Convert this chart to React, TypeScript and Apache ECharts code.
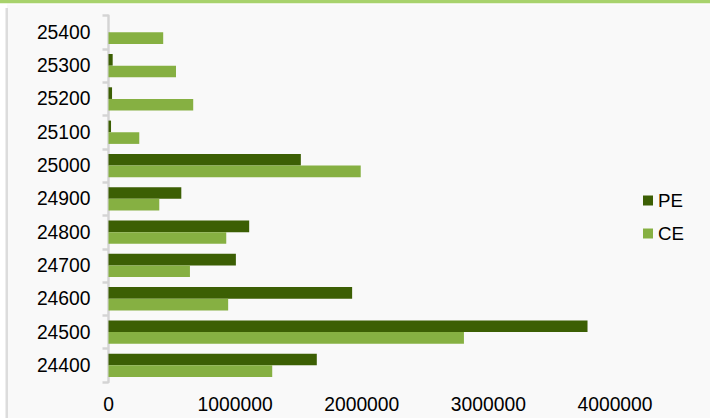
import React, { useEffect, useRef } from "react";
import * as echarts from "echarts";

const categories = ["24400", "24500", "24600", "24700", "24800", "24900", "25000", "25100", "25200", "25300", "25400"];
const peValues = [1645000, 3783000, 1924000, 1006000, 1111000, 575000, 1519000, 20000, 28000, 33000, 0];
const ceValues = [1293000, 2807000, 945000, 643000, 930000, 401000, 1992000, 243000, 669000, 533000, 432000];
const seriesNames = ["PE", "CE"];

export default function App() {
  const ref = useRef<HTMLDivElement>(null);
  useEffect(() => {
    if (!ref.current) return;
    const chart = echarts.init(ref.current, undefined, { renderer: "svg" });
    const font = "'Liberation Sans', Arial, sans-serif";
    chart.setOption({
      animation: false,
      backgroundColor: "#f9f9f9",
      textStyle: { fontFamily: font },
      graphic: [
        { type: "rect", shape: { x: 0, y: 0, width: 7, height: 418 }, style: { fill: "#ffffff" }, z: -1 },
        { type: "rect", shape: { x: 0, y: 0, width: 710, height: 3.5 }, style: { fill: "#a8d26c" } },
        { type: "rect", shape: { x: 0, y: 3.5, width: 710, height: 1 }, style: { fill: "#ffffff" } },
        { type: "rect", shape: { x: 5.5, y: 8, width: 2.5, height: 410 }, style: { fill: "#dcdcdc" } },
      ],
      legend: {
        orient: "vertical",
        left: 638,
        top: 186,
        itemWidth: 10,
        itemHeight: 10,
        itemGap: 14,
        icon: "rect",
        data: seriesNames,
        textStyle: { fontSize: 18.7, color: "#000", fontFamily: font },
      },
      grid: { left: 108.5, right: 95, top: 15.7, bottom: 36, containLabel: false },
      xAxis: {
        type: "value",
        min: 0,
        max: 4000000,
        interval: 1000000,
        axisLine: { show: false },
        axisTick: { show: false },
        splitLine: { show: false },
        axisLabel: { fontSize: 19.3, color: "#000", margin: 13, fontFamily: font, formatter: (v: number) => String(v) },
      },
      yAxis: {
        type: "category",
        data: categories,
        axisLine: { show: true, lineStyle: { color: "#d4d4d4", width: 2.5 } },
        axisTick: { show: true, length: 6, lineStyle: { color: "#d4d4d4", width: 2.5 } },
        axisLabel: { fontSize: 19.3, color: "#000", margin: 18, fontFamily: font },
      },
      series: [
        {
          name: seriesNames[0],
          type: "bar",
          data: peValues,
          barGap: "0%",
          barCategoryGap: "30%",
          itemStyle: { color: "#3c5f04" },
        },
        {
          name: seriesNames[1],
          type: "bar",
          data: ceValues,
          barGap: "0%",
          barCategoryGap: "30%",
          itemStyle: { color: "#86b042" },
        },
      ],
    });
    return () => chart.dispose();
  }, []);
  return <div ref={ref} style={{ position: "fixed", left: 0, top: 0, width: 710, height: 418 }} />;
}
